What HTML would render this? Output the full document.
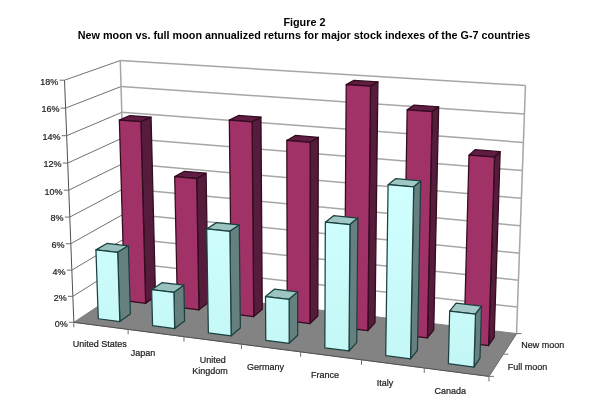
<!DOCTYPE html>
<html lang="en"><head><meta charset="utf-8"><title>Figure 2</title>
<style>
html,body{margin:0;padding:0;background:#fff;}
body{width:600px;height:410px;overflow:hidden;}
svg{display:block;font-family:"Liberation Sans",Arial,Helvetica,sans-serif;}
</style></head><body>
<svg width="600" height="410" viewBox="0 0 600 410">
<defs>
<filter id="soft" x="0" y="0" width="600" height="410" filterUnits="userSpaceOnUse"><feGaussianBlur stdDeviation="0.4"/></filter>
<linearGradient id="gf" gradientUnits="userSpaceOnUse" x1="0" y1="180" x2="0" y2="375"><stop offset="0" stop-color="#d0ffff"/><stop offset="1" stop-color="#c4f6f6"/></linearGradient>
<linearGradient id="gt" gradientUnits="userSpaceOnUse" x1="0" y1="0" x2="600" y2="0"><stop offset="0" stop-color="#94bcb9"/><stop offset="1" stop-color="#a6cdca"/></linearGradient>
</defs>
<rect width="600" height="410" fill="#ffffff"/>
<g filter="url(#soft)">
<polygon points="73.85,322.30 64.53,80.19 120.28,60.55 126.93,287.04" fill="#ffffff"/>
<polygon points="126.93,287.04 120.28,60.55 525.46,85.54 516.52,333.59" fill="#ffffff"/>
<polygon points="73.85,322.30 126.93,287.04 516.52,333.59 488.94,376.37" fill="#838383" stroke="#838383" stroke-width="1" stroke-linejoin="round"/>
<line x1="72.85" y1="296.34" x2="126.22" y2="262.69" stroke="#727272" stroke-width="1.0"/>
<line x1="126.22" y1="262.69" x2="517.48" y2="307.01" stroke="#a6a6a6" stroke-width="1.5"/>
<line x1="71.84" y1="270.15" x2="125.50" y2="238.15" stroke="#727272" stroke-width="1.0"/>
<line x1="125.50" y1="238.15" x2="518.44" y2="280.20" stroke="#a6a6a6" stroke-width="1.5"/>
<line x1="70.83" y1="243.73" x2="124.77" y2="213.40" stroke="#727272" stroke-width="1.0"/>
<line x1="124.77" y1="213.40" x2="519.42" y2="253.15" stroke="#a6a6a6" stroke-width="1.5"/>
<line x1="69.80" y1="217.08" x2="124.04" y2="188.45" stroke="#727272" stroke-width="1.0"/>
<line x1="124.04" y1="188.45" x2="520.40" y2="225.85" stroke="#a6a6a6" stroke-width="1.5"/>
<line x1="68.77" y1="190.19" x2="123.30" y2="163.29" stroke="#727272" stroke-width="1.0"/>
<line x1="123.30" y1="163.29" x2="521.39" y2="198.30" stroke="#a6a6a6" stroke-width="1.5"/>
<line x1="67.72" y1="163.06" x2="122.55" y2="137.93" stroke="#727272" stroke-width="1.0"/>
<line x1="122.55" y1="137.93" x2="522.40" y2="170.50" stroke="#a6a6a6" stroke-width="1.5"/>
<line x1="66.67" y1="135.69" x2="121.80" y2="112.35" stroke="#727272" stroke-width="1.0"/>
<line x1="121.80" y1="112.35" x2="523.41" y2="142.44" stroke="#a6a6a6" stroke-width="1.5"/>
<line x1="65.61" y1="108.07" x2="121.04" y2="86.56" stroke="#727272" stroke-width="1.0"/>
<line x1="121.04" y1="86.56" x2="524.43" y2="114.12" stroke="#a6a6a6" stroke-width="1.5"/>
<line x1="64.53" y1="80.19" x2="120.28" y2="60.55" stroke="#727272" stroke-width="1.0"/>
<line x1="120.28" y1="60.55" x2="525.46" y2="85.54" stroke="#a6a6a6" stroke-width="1.5"/>
<line x1="126.93" y1="287.04" x2="120.28" y2="60.55" stroke="#a6a6a6" stroke-width="1.5"/>
<line x1="516.52" y1="333.59" x2="525.46" y2="85.54" stroke="#a6a6a6" stroke-width="1.5"/>
<line x1="73.85" y1="322.30" x2="64.53" y2="80.19" stroke="#505050" stroke-width="1"/>
<line x1="73.85" y1="322.30" x2="488.94" y2="376.37" stroke="#505050" stroke-width="1"/>
<line x1="488.94" y1="376.37" x2="516.52" y2="333.59" stroke="#707070" stroke-width="1"/>
<line x1="73.85" y1="322.30" x2="68.85" y2="322.30" stroke="#707070" stroke-width="1"/>
<line x1="72.85" y1="296.34" x2="67.85" y2="296.34" stroke="#707070" stroke-width="1"/>
<line x1="71.84" y1="270.15" x2="66.84" y2="270.15" stroke="#707070" stroke-width="1"/>
<line x1="70.83" y1="243.73" x2="65.83" y2="243.73" stroke="#707070" stroke-width="1"/>
<line x1="69.80" y1="217.08" x2="64.80" y2="217.08" stroke="#707070" stroke-width="1"/>
<line x1="68.77" y1="190.19" x2="63.77" y2="190.19" stroke="#707070" stroke-width="1"/>
<line x1="67.72" y1="163.06" x2="62.72" y2="163.06" stroke="#707070" stroke-width="1"/>
<line x1="66.67" y1="135.69" x2="61.67" y2="135.69" stroke="#707070" stroke-width="1"/>
<line x1="65.61" y1="108.07" x2="60.61" y2="108.07" stroke="#707070" stroke-width="1"/>
<line x1="64.53" y1="80.19" x2="59.53" y2="80.19" stroke="#707070" stroke-width="1"/>
<line x1="73.85" y1="322.30" x2="73.85" y2="327.30" stroke="#707070" stroke-width="1"/>
<line x1="128.14" y1="329.38" x2="128.14" y2="334.38" stroke="#707070" stroke-width="1"/>
<line x1="183.99" y1="336.65" x2="183.99" y2="341.65" stroke="#707070" stroke-width="1"/>
<line x1="241.45" y1="344.14" x2="241.45" y2="349.14" stroke="#707070" stroke-width="1"/>
<line x1="300.60" y1="351.84" x2="300.60" y2="356.84" stroke="#707070" stroke-width="1"/>
<line x1="361.51" y1="359.77" x2="361.51" y2="364.77" stroke="#707070" stroke-width="1"/>
<line x1="424.26" y1="367.95" x2="424.26" y2="372.95" stroke="#707070" stroke-width="1"/>
<line x1="488.94" y1="376.37" x2="488.94" y2="381.37" stroke="#707070" stroke-width="1"/>
<line x1="488.94" y1="376.37" x2="493.94" y2="376.37" stroke="#707070" stroke-width="1"/>
<line x1="503.26" y1="354.16" x2="508.26" y2="354.16" stroke="#707070" stroke-width="1"/>
<line x1="516.52" y1="333.59" x2="521.52" y2="333.59" stroke="#707070" stroke-width="1"/>
<polygon points="119.34,120.05 140.87,121.71 151.07,117.15 129.79,115.54" fill="#601d43" stroke="#330a1f" stroke-width="1.25" stroke-linejoin="round"/>
<polygon points="145.65,303.31 140.87,121.71 151.07,117.15 155.49,296.38" fill="#561a3a" stroke="#330a1f" stroke-width="1.25" stroke-linejoin="round"/>
<polygon points="124.73,300.74 145.65,303.31 140.87,121.71 119.34,120.05" fill="#a03168" stroke="#330a1f" stroke-width="1.25" stroke-linejoin="round"/>
<polygon points="174.71,176.62 196.65,178.60 206.11,173.20 184.42,171.28" fill="#601d43" stroke="#330a1f" stroke-width="1.25" stroke-linejoin="round"/>
<polygon points="198.94,309.87 196.65,178.60 206.11,173.20 208.16,302.76" fill="#561a3a" stroke="#330a1f" stroke-width="1.25" stroke-linejoin="round"/>
<polygon points="177.45,307.23 198.94,309.87 196.65,178.60 174.71,176.62" fill="#a03168" stroke="#330a1f" stroke-width="1.25" stroke-linejoin="round"/>
<polygon points="229.30,120.11 252.09,121.81 260.96,117.11 238.45,115.46" fill="#601d43" stroke="#330a1f" stroke-width="1.25" stroke-linejoin="round"/>
<polygon points="253.69,316.61 252.09,121.81 260.96,117.11 262.26,309.30" fill="#561a3a" stroke="#330a1f" stroke-width="1.25" stroke-linejoin="round"/>
<polygon points="231.61,313.89 253.69,316.61 252.09,121.81 229.30,120.11" fill="#a03168" stroke="#330a1f" stroke-width="1.25" stroke-linejoin="round"/>
<polygon points="286.80,140.49 310.19,142.33 318.31,137.27 295.22,135.48" fill="#601d43" stroke="#330a1f" stroke-width="1.25" stroke-linejoin="round"/>
<polygon points="309.97,323.53 310.19,142.33 318.31,137.27 317.85,316.03" fill="#561a3a" stroke="#330a1f" stroke-width="1.25" stroke-linejoin="round"/>
<polygon points="287.27,320.74 309.97,323.53 310.19,142.33 286.80,140.49" fill="#a03168" stroke="#330a1f" stroke-width="1.25" stroke-linejoin="round"/>
<polygon points="346.21,84.66 370.52,86.22 377.93,81.89 353.93,80.38" fill="#601d43" stroke="#330a1f" stroke-width="1.25" stroke-linejoin="round"/>
<polygon points="367.83,330.65 370.52,86.22 377.93,81.89 374.99,322.94" fill="#561a3a" stroke="#330a1f" stroke-width="1.25" stroke-linejoin="round"/>
<polygon points="344.49,327.78 367.83,330.65 370.52,86.22 346.21,84.66" fill="#a03168" stroke="#330a1f" stroke-width="1.25" stroke-linejoin="round"/>
<polygon points="407.17,109.79 432.13,111.52 438.67,106.75 414.06,105.08" fill="#601d43" stroke="#330a1f" stroke-width="1.25" stroke-linejoin="round"/>
<polygon points="427.36,337.98 432.13,111.52 438.67,106.75 433.74,330.05" fill="#561a3a" stroke="#330a1f" stroke-width="1.25" stroke-linejoin="round"/>
<polygon points="403.35,335.02 427.36,337.98 432.13,111.52 407.17,109.79" fill="#a03168" stroke="#330a1f" stroke-width="1.25" stroke-linejoin="round"/>
<polygon points="469.00,155.13 494.54,157.14 500.18,151.63 475.00,149.68" fill="#601d43" stroke="#330a1f" stroke-width="1.25" stroke-linejoin="round"/>
<polygon points="488.62,345.52 494.54,157.14 500.18,151.63 494.18,337.36" fill="#561a3a" stroke="#330a1f" stroke-width="1.25" stroke-linejoin="round"/>
<polygon points="463.90,342.47 488.62,345.52 494.54,157.14 469.00,155.13" fill="#a03168" stroke="#330a1f" stroke-width="1.25" stroke-linejoin="round"/>
<polygon points="95.92,249.88 117.69,252.29 128.39,245.76 106.88,243.42" fill="url(#gt)" stroke="#1c4040" stroke-width="1.25" stroke-linejoin="round"/>
<polygon points="119.82,321.51 117.69,252.29 128.39,245.76 130.37,314.08" fill="#668080" stroke="#1c4040" stroke-width="1.25" stroke-linejoin="round"/>
<polygon points="98.29,318.75 119.82,321.51 117.69,252.29 95.92,249.88" fill="url(#gf)" stroke="#1c4040" stroke-width="1.25" stroke-linejoin="round"/>
<polygon points="151.65,289.73 173.91,292.39 183.89,285.22 161.89,282.64" fill="url(#gt)" stroke="#1c4040" stroke-width="1.25" stroke-linejoin="round"/>
<polygon points="174.69,328.57 173.91,292.39 183.89,285.22 184.60,320.93" fill="#668080" stroke="#1c4040" stroke-width="1.25" stroke-linejoin="round"/>
<polygon points="152.56,325.72 174.69,328.57 173.91,292.39 151.65,289.73" fill="url(#gf)" stroke="#1c4040" stroke-width="1.25" stroke-linejoin="round"/>
<polygon points="206.71,228.97 229.87,231.35 239.27,224.91 216.40,222.61" fill="url(#gt)" stroke="#1c4040" stroke-width="1.25" stroke-linejoin="round"/>
<polygon points="231.13,335.82 229.87,231.35 239.27,224.91 240.35,327.97" fill="#668080" stroke="#1c4040" stroke-width="1.25" stroke-linejoin="round"/>
<polygon points="208.36,332.89 231.13,335.82 229.87,231.35 206.71,228.97" fill="url(#gf)" stroke="#1c4040" stroke-width="1.25" stroke-linejoin="round"/>
<polygon points="265.50,296.56 289.11,299.34 297.66,291.86 274.36,289.17" fill="url(#gt)" stroke="#1c4040" stroke-width="1.25" stroke-linejoin="round"/>
<polygon points="289.21,343.29 289.11,299.34 297.66,291.86 297.70,335.21" fill="#668080" stroke="#1c4040" stroke-width="1.25" stroke-linejoin="round"/>
<polygon points="265.78,340.27 289.21,343.29 289.11,299.34 265.50,296.56" fill="url(#gf)" stroke="#1c4040" stroke-width="1.25" stroke-linejoin="round"/>
<polygon points="325.34,222.14 349.97,224.55 357.83,218.01 333.52,215.68" fill="url(#gt)" stroke="#1c4040" stroke-width="1.25" stroke-linejoin="round"/>
<polygon points="348.98,350.97 349.97,224.55 357.83,218.01 356.69,342.66" fill="#668080" stroke="#1c4040" stroke-width="1.25" stroke-linejoin="round"/>
<polygon points="324.86,347.87 348.98,350.97 349.97,224.55 325.34,222.14" fill="url(#gf)" stroke="#1c4040" stroke-width="1.25" stroke-linejoin="round"/>
<polygon points="388.10,184.70 413.68,186.94 420.71,180.85 395.49,178.68" fill="url(#gt)" stroke="#1c4040" stroke-width="1.25" stroke-linejoin="round"/>
<polygon points="410.54,358.88 413.68,186.94 420.71,180.85 417.42,350.33" fill="#668080" stroke="#1c4040" stroke-width="1.25" stroke-linejoin="round"/>
<polygon points="385.70,355.69 410.54,358.88 413.68,186.94 388.10,184.70" fill="url(#gf)" stroke="#1c4040" stroke-width="1.25" stroke-linejoin="round"/>
<polygon points="449.66,311.16 475.49,314.16 481.52,306.10 456.06,303.20" fill="url(#gt)" stroke="#1c4040" stroke-width="1.25" stroke-linejoin="round"/>
<polygon points="473.96,367.03 475.49,314.16 481.52,306.10 479.96,358.22" fill="#668080" stroke="#1c4040" stroke-width="1.25" stroke-linejoin="round"/>
<polygon points="448.36,363.74 473.96,367.03 475.49,314.16 449.66,311.16" fill="url(#gf)" stroke="#1c4040" stroke-width="1.25" stroke-linejoin="round"/>
<text x="67.65" y="326.7" font-size="9" font-weight="normal" text-anchor="end" fill="#1a1a1a" stroke="#1a1a1a" stroke-width="0.2">0%</text>
<text x="66.65" y="300.74" font-size="9" font-weight="normal" text-anchor="end" fill="#1a1a1a" stroke="#1a1a1a" stroke-width="0.2">2%</text>
<text x="65.64" y="274.55" font-size="9" font-weight="normal" text-anchor="end" fill="#1a1a1a" stroke="#1a1a1a" stroke-width="0.2">4%</text>
<text x="64.63" y="248.13" font-size="9" font-weight="normal" text-anchor="end" fill="#1a1a1a" stroke="#1a1a1a" stroke-width="0.2">6%</text>
<text x="63.6" y="221.48" font-size="9" font-weight="normal" text-anchor="end" fill="#1a1a1a" stroke="#1a1a1a" stroke-width="0.2">8%</text>
<text x="62.57" y="194.59" font-size="9" font-weight="normal" text-anchor="end" fill="#1a1a1a" stroke="#1a1a1a" stroke-width="0.2">10%</text>
<text x="61.52" y="167.46" font-size="9" font-weight="normal" text-anchor="end" fill="#1a1a1a" stroke="#1a1a1a" stroke-width="0.2">12%</text>
<text x="60.47" y="140.09" font-size="9" font-weight="normal" text-anchor="end" fill="#1a1a1a" stroke="#1a1a1a" stroke-width="0.2">14%</text>
<text x="59.41" y="112.47" font-size="9" font-weight="normal" text-anchor="end" fill="#1a1a1a" stroke="#1a1a1a" stroke-width="0.2">16%</text>
<text x="58.33" y="84.59" font-size="9" font-weight="normal" text-anchor="end" fill="#1a1a1a" stroke="#1a1a1a" stroke-width="0.2">18%</text>
<text x="99.8" y="346.7" font-size="9" font-weight="normal" text-anchor="middle" fill="#1a1a1a" stroke="#1a1a1a" stroke-width="0.2">United States</text>
<text x="142.9" y="355.5" font-size="9" font-weight="normal" text-anchor="middle" fill="#1a1a1a" stroke="#1a1a1a" stroke-width="0.2">Japan</text>
<text x="212.8" y="363" font-size="9" font-weight="normal" text-anchor="middle" fill="#1a1a1a" stroke="#1a1a1a" stroke-width="0.2">United</text>
<text x="210" y="374.25" font-size="9" font-weight="normal" text-anchor="middle" fill="#1a1a1a" stroke="#1a1a1a" stroke-width="0.2">Kingdom</text>
<text x="265.6" y="370" font-size="9" font-weight="normal" text-anchor="middle" fill="#1a1a1a" stroke="#1a1a1a" stroke-width="0.2">Germany</text>
<text x="325" y="377.5" font-size="9" font-weight="normal" text-anchor="middle" fill="#1a1a1a" stroke="#1a1a1a" stroke-width="0.2">France</text>
<text x="385" y="385.5" font-size="9" font-weight="normal" text-anchor="middle" fill="#1a1a1a" stroke="#1a1a1a" stroke-width="0.2">Italy</text>
<text x="450.2" y="393.75" font-size="9" font-weight="normal" text-anchor="middle" fill="#1a1a1a" stroke="#1a1a1a" stroke-width="0.2">Canada</text>
<text x="521.2" y="347.5" font-size="9" font-weight="normal" text-anchor="start" fill="#1a1a1a" stroke="#1a1a1a" stroke-width="0.2">New moon</text>
<text x="507.8" y="369.5" font-size="9" font-weight="normal" text-anchor="start" fill="#1a1a1a" stroke="#1a1a1a" stroke-width="0.2">Full moon</text>
<text x="304.4" y="25.5" font-size="10.8" font-weight="bold" text-anchor="middle" fill="#000000">Figure 2</text>
<text x="304" y="39" font-size="10.8" font-weight="bold" text-anchor="middle" fill="#000000">New moon vs. full moon annualized returns for major stock indexes of the G-7 countries</text>
</g>
</svg>
</body></html>
